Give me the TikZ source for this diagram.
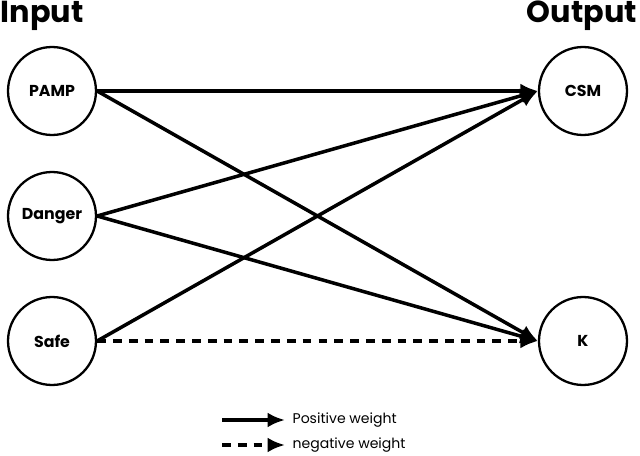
\documentclass[tikz,border=0pt]{standalone}
\usepackage{fontspec}
\setmainfont{Poppins}
\usetikzlibrary{arrows.meta,shadows}
\tikzset{
  unit/.style={circle, draw, line width=1.3pt, minimum size=1.76cm, fill=white,
    drop shadow={opacity=0.3, shadow xshift=0.5pt, shadow yshift=-0.5pt}, font=\small\bfseries},
  weight/.style={line width=2pt, -{Latex[length=3.5mm,width=3mm]}},
  negweight/.style={weight, dashed, dash pattern=on 5pt off 4pt},
  title/.style={font=\LARGE\bfseries}
}
\begin{document}
\begin{tikzpicture}[x=0.02cm,y=-0.02cm]
    \useasboundingbox (0,0) rectangle (640,456);
    % Titulos
    \node[title] (tin) at (42,16) {Input};
    \node[title] (tout) at (582,16) {Output};

    % Entradas
    \node[unit] (pamp) at (52,91) {PAMP};
    \node[unit] (danger) at (52,216) {Danger};
    \node[unit] (safe) at (52,341) {Safe};

    % Salidas
    \node[unit] (csm) at (583,91) {CSM};
    \node[unit] (k) at (583,341) {K};

    % Pesos
    \draw[weight] (pamp.east) -- (csm.west);
    \draw[weight] (pamp.east) -- (k.west);
    \draw[weight] (danger.east) -- (csm.west);
    \draw[weight] (danger.east) -- (k.west);
    \draw[weight] (safe.east) -- (csm.west);
    \draw[negweight] (safe.east) -- (k.west);

    % Leyenda
    \coordinate (p1) at (222,420);
    \coordinate (p2) at (285,420);
    \coordinate (n1) at (222,445);
    \coordinate (n2) at (285,445);
    \draw[weight] (p1) -- (p2) node[right, font=\footnotesize] (lpos) {Positive weight};
    \draw[negweight] (n1) -- (n2) node[right, font=\footnotesize] (lneg) {negative weight};
\end{tikzpicture}
\end{document}
